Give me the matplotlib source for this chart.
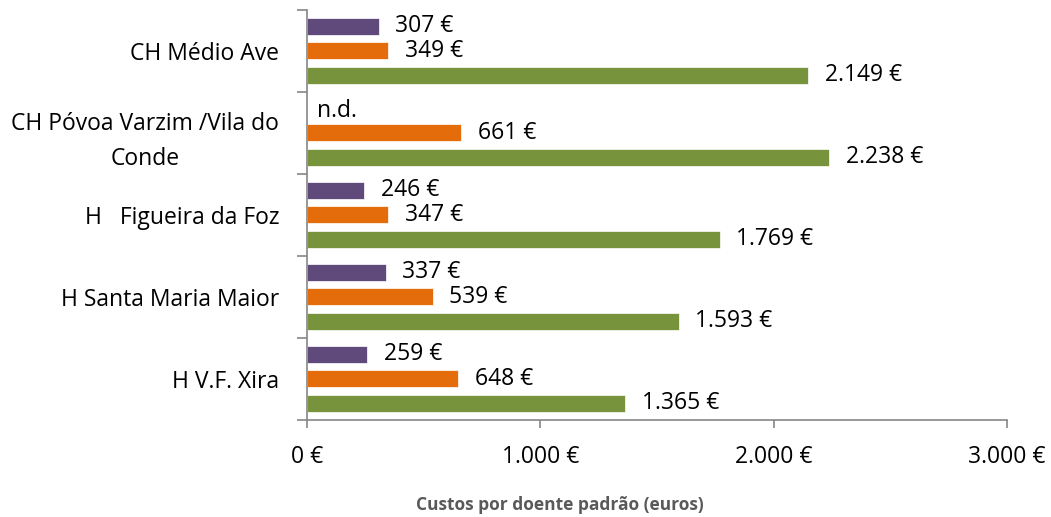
import numpy as np
import matplotlib
matplotlib.use("Agg")
import matplotlib.pyplot as plt
from matplotlib.ticker import FixedLocator, FuncFormatter

plt.rcParams["font.family"] = ["Open Sans", "DejaVu Sans"]

hospitals = [
    "CH Médio Ave",
    "CH Póvoa Varzim /Vila do\nConde",
    "H   Figueira da Foz",
    "H Santa Maria Maior",
    "H V.F. Xira",
]
serie_roxa = [307, np.nan, 246, 337, 259]
serie_laranja = [349, 661, 347, 539, 648]
serie_verde = [2149, 2238, 1769, 1593, 1365]
x_ticks = [0, 1000, 2000, 3000]

colors = ["#604A7B", "#E46C0A", "#77933C"]
series = [serie_roxa, serie_laranja, serie_verde]
offsets = [-0.30, 0.0, 0.30]
FS = 16.5


def euro(v):
    return f"{int(v):,} €".replace(",", ".")


fig = plt.figure(figsize=(10.51, 5.17), dpi=100)
ax = fig.add_axes([0.292, 0.188, 0.666, 0.793])

y = np.arange(len(hospitals))
for vals, col, off in zip(series, colors, offsets):
    ax.barh(y + off, vals, height=0.21, color=col, edgecolor="white", linewidth=0.5)
    for yi, v in zip(y, vals):
        if np.isnan(v):
            ax.annotate("n.d.", (0, yi + off), xytext=(7, -2), textcoords="offset points",
                        va="center", ha="left", fontsize=FS)
        else:
            ax.annotate(euro(v), (v, yi + off), xytext=(12, 0), textcoords="offset points",
                        va="center", ha="left", fontsize=FS)

ax.set_xlim(0, 3000)
ax.set_ylim(len(hospitals) - 0.5, -0.5)
ax.xaxis.set_major_locator(FixedLocator(x_ticks))
ax.xaxis.set_major_formatter(FuncFormatter(lambda v, p: euro(v)))
ax.set_yticks(y)
ax.set_yticklabels(hospitals, fontsize=FS, multialignment="center", linespacing=1.6)
ax.yaxis.set_minor_locator(FixedLocator(np.arange(-0.5, len(hospitals), 1.0)))
ax.tick_params(axis="y", which="major", length=0, pad=20)
ax.tick_params(axis="y", which="minor", length=7, color="#868686", width=1.2)
ax.tick_params(axis="x", length=6, color="#868686", width=1.2, labelsize=FS, pad=12)

for s in ["top", "right"]:
    ax.spines[s].set_visible(False)
for s in ["left", "bottom"]:
    ax.spines[s].set_color("#868686")
    ax.spines[s].set_linewidth(1.2)

fig.text(0.533, 1 - 505 / 517, "Custos por doente padrão (euros)", fontsize=12.5,
         fontweight="bold", color="#595959", ha="center", va="center")

fig.savefig("out.png", dpi=100)
